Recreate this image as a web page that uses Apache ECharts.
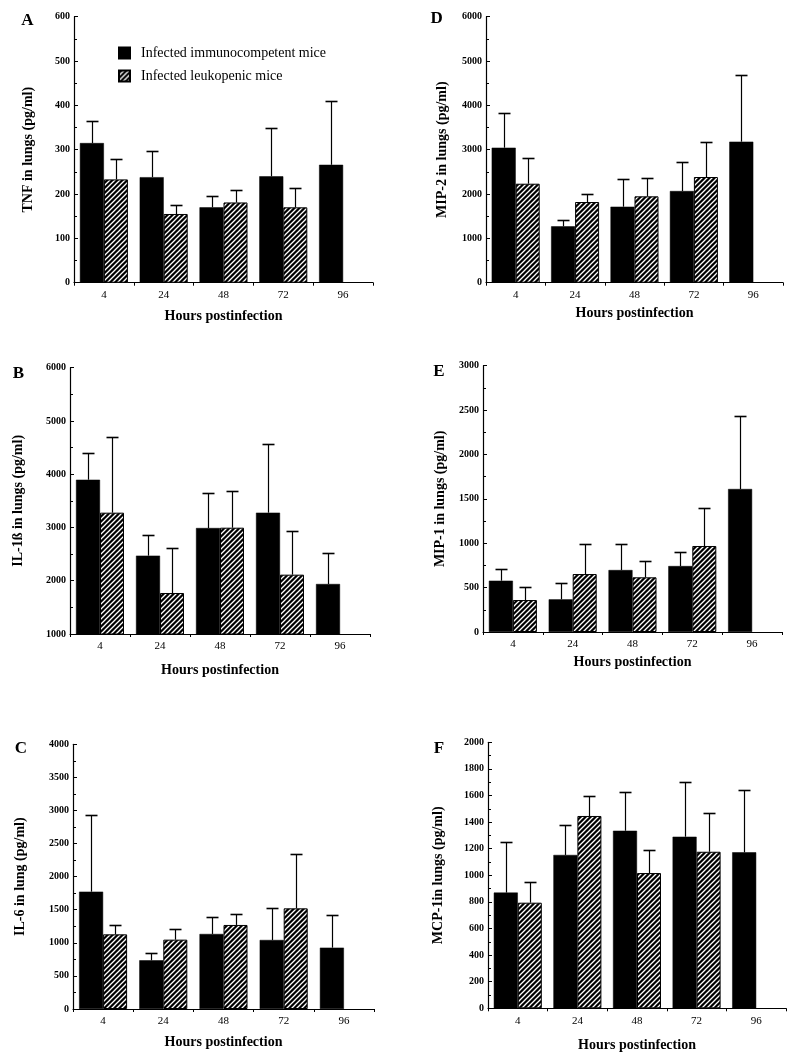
<!DOCTYPE html>
<html>
<head>
<meta charset="utf-8">
<script src="https://cdn.jsdelivr.net/npm/echarts@6/dist/echarts.min.js"></script>
<style>
html,body{margin:0;padding:0;background:#fff;}
#chart{width:800px;height:1060px;}
</style>
</head>
<body>
<div id="chart"></div>
<script>
// ---------- data ----------
const hours = ['4', '24', '48', '72', '96'];
const seriesNames = ['Infected immunocompetent mice', 'Infected leukopenic mice'];

// A: TNF
const tnfImmune = [315, 238, 170, 240, 266];
const tnfImmuneSD = [49, 59, 26, 108, 144];
const tnfLeuko = [233, 155, 181, 170, null];
const tnfLeukoSD = [47, 20, 28, 44, null];

// B: IL-1ß
const il1Immune = [3897, 2471, 2990, 3278, 1939];
const il1ImmuneSD = [507, 394, 651, 1283, 588];
const il1Leuko = [3278, 1770, 2996, 2114, null];
const il1LeukoSD = [1427, 851, 695, 820, null];

// C: IL-6
const il6Immune = [1773, 736, 1134, 1043, 927];
const il6ImmuneSD = [1164, 115, 251, 478, 489];
const il6Leuko = [1128, 1048, 1270, 1521, null];
const il6LeukoSD = [147, 166, 171, 817, null];

// D: MIP-2
const mip2Immune = [3045, 1271, 1714, 2068, 3181];
const mip2ImmuneSD = [775, 135, 632, 654, 1504];
const mip2Leuko = [2233, 1820, 1948, 2384, null];
const mip2LeukoSD = [587, 188, 406, 782, null];

// E: MIP-1
const mip1Immune = [578, 368, 698, 743, 1611];
const mip1ImmuneSD = [132, 188, 297, 162, 822];
const mip1Leuko = [360, 653, 616, 969, null];
const mip1LeukoSD = [143, 342, 188, 424, null];

// F: MCP-1
const mcp1Immune = [870, 1153, 1335, 1290, 1173];
const mcp1ImmuneSD = [380, 225, 293, 411, 468];
const mcp1Leuko = [794, 1446, 1017, 1177, null];
const mcp1LeukoSD = [158, 153, 171, 289, null];

// ---------- panels ----------
const FONT = "'Liberation Serif', 'Times New Roman', 'DejaVu Serif', serif";
const panels = [
  {letter:'A', title:'TNF in lungs (pg/ml)', min:0, max:600, step:100,
   imm:tnfImmune, immSD:tnfImmuneSD, leu:tnfLeuko, leuSD:tnfLeukoSD,
   grid:{left:74, top:16.7, width:299, height:266}, yGap:39, xGap:27, letterPos:[27.5,21]},
  {letter:'D', title:'MIP-2 in lungs (pg/ml)', min:0, max:6000, step:1000,
   imm:mip2Immune, immSD:mip2ImmuneSD, leu:mip2Leuko, leuSD:mip2LeukoSD,
   grid:{left:486, top:16.7, width:297, height:266}, yGap:37, xGap:24, letterPos:[436.7,19]},
  {letter:'B', title:'IL-1ß in lungs (pg/ml)', min:1000, max:6000, step:1000,
   imm:il1Immune, immSD:il1ImmuneSD, leu:il1Leuko, leuSD:il1LeukoSD,
   grid:{left:70, top:367.7, width:300, height:266.3}, yGap:45, xGap:29, letterPos:[18.3,373.3]},
  {letter:'E', title:'MIP-1 in lungs (pg/ml)', min:0, max:3000, step:500,
   imm:mip1Immune, immSD:mip1ImmuneSD, leu:mip1Leuko, leuSD:mip1LeukoSD,
   grid:{left:483, top:365.7, width:299, height:266.3}, yGap:36, xGap:23, letterPos:[438.8,372]},
  {letter:'C', title:'IL-6 in lung (pg/ml)', min:0, max:4000, step:500,
   imm:il6Immune, immSD:il6ImmuneSD, leu:il6Leuko, leuSD:il6LeukoSD,
   grid:{left:73, top:744.3, width:301, height:264.7}, yGap:46, xGap:26, letterPos:[20.8,749]},
  {letter:'F', title:'MCP-1in lungs (pg/ml)', min:0, max:2000, step:200,
   imm:mcp1Immune, immSD:mcp1ImmuneSD, leu:mcp1Leuko, leuSD:mcp1LeukoSD,
   grid:{left:488, top:742.3, width:298, height:266}, yGap:43, xGap:30, letterPos:[439,748.6]}
];

// ---------- hatch pattern ----------
function makeHatch() {
  const c = document.createElement('canvas');
  const s = 5;
  c.width = s; c.height = s;
  const ctx = c.getContext('2d');
  ctx.fillStyle = '#000';
  ctx.fillRect(0, 0, s, s);
  ctx.strokeStyle = '#ffffff';
  ctx.lineWidth = 1.3;
  ctx.beginPath();
  ctx.moveTo(-1, s + 1); ctx.lineTo(s + 1, -1);
  ctx.moveTo(-2, 2); ctx.lineTo(2, -2);
  ctx.moveTo(s - 2, s + 2); ctx.lineTo(s + 2, s - 2);
  ctx.stroke();
  return c;
}
const hatch = {image: makeHatch(), repeat: 'repeat'};

const BAR_W = 24;

function errorSeries(i, means, sds, offset) {
  const data = [];
  means.forEach((m, k) => {
    if (m != null && sds[k] != null) data.push([k, m, m + sds[k]]);
  });
  return {
    type: 'custom',
    xAxisIndex: i, yAxisIndex: i,
    z: 5,
    silent: true,
    encode: {x: 0, y: [1, 2]},
    data: data,
    renderItem: function (params, api) {
      const base = api.coord([api.value(0), api.value(1)]);
      const top = api.coord([api.value(0), api.value(2)]);
      const cx = Math.round(base[0] + offset) + 0.5;
      const ty = Math.round(top[1]) + 0.5;
      return {
        type: 'group',
        children: [
          {type: 'line', shape: {x1: cx, y1: base[1], x2: cx, y2: ty}, style: {stroke: '#000', lineWidth: 1.2}},
          {type: 'line', shape: {x1: cx - 6, y1: ty, x2: cx + 6, y2: ty}, style: {stroke: '#000', lineWidth: 1.6}}
        ]
      };
    }
  };
}

const grids = [], xAxes = [], yAxes = [], series = [], graphics = [];
panels.forEach((p, i) => {
  grids.push(Object.assign({containLabel: false}, p.grid));
  xAxes.push({
    gridIndex: i, type: 'category', data: hours,
    axisLine: {lineStyle: {color: '#000', width: 1.2}},
    axisTick: {show: true, inside: false, length: 3, lineStyle: {color: '#000'}},
    axisLabel: {color: '#000', fontFamily: FONT, fontSize: 11, margin: 7},
    name: 'Hours postinfection', nameLocation: 'middle', nameGap: p.xGap,
    nameTextStyle: {fontFamily: FONT, fontWeight: 'bold', fontSize: 14, color: '#000'}
  });
  yAxes.push({
    gridIndex: i, type: 'value', min: p.min, max: p.max, interval: p.step,
    axisLine: {show: true, lineStyle: {color: '#000', width: 1.2}},
    axisTick: {show: true, inside: true, length: 4, lineStyle: {color: '#000'}},
    minorTick: {show: true, splitNumber: 2, length: 3, lineStyle: {color: '#000'}},
    splitLine: {show: false},
    axisLabel: {color: '#000', fontFamily: FONT, fontSize: 10, fontWeight: 'bold', margin: 4,
      formatter: function (v) { return String(v); }},
    name: p.title, nameLocation: 'middle', nameGap: p.yGap,
    nameTextStyle: {fontFamily: FONT, fontWeight: 'bold', fontSize: 14, color: '#000'}
  });
  series.push({
    name: seriesNames[0], type: 'bar', xAxisIndex: i, yAxisIndex: i,
    data: p.imm, barWidth: BAR_W, barGap: '0%',
    itemStyle: {color: '#000', borderColor: '#000', borderWidth: 0.5}
  });
  series.push({
    name: seriesNames[1], type: 'bar', xAxisIndex: i, yAxisIndex: i,
    data: p.leu, barWidth: BAR_W, barGap: '0%',
    itemStyle: {color: hatch, borderColor: '#000', borderWidth: 1}
  });
  series.push(errorSeries(i, p.imm, p.immSD, -BAR_W / 2));
  series.push(errorSeries(i, p.leu, p.leuSD, BAR_W / 2));
  graphics.push({
    type: 'text', x: p.letterPos[0], y: p.letterPos[1],
    style: {text: p.letter, font: 'bold 17px ' + FONT, fill: '#000', align: 'center', verticalAlign: 'middle'}
  });
});

const chart = echarts.init(document.getElementById('chart'), null, {renderer: 'canvas'});
chart.setOption({
  animation: false,
  backgroundColor: '#fff',
  grid: grids,
  xAxis: xAxes,
  yAxis: yAxes,
  legend: {
    data: seriesNames,
    orient: 'vertical',
    left: 113, top: 40,
    icon: 'rect',
    itemWidth: 11, itemHeight: 11,
    itemGap: 7,
    selectedMode: false,
    textStyle: {fontFamily: FONT, fontSize: 14, color: '#000', lineHeight: 16, padding: [0, 0, 0, 6]}
  },
  graphic: graphics,
  series: series
});
</script>
</body>
</html>
